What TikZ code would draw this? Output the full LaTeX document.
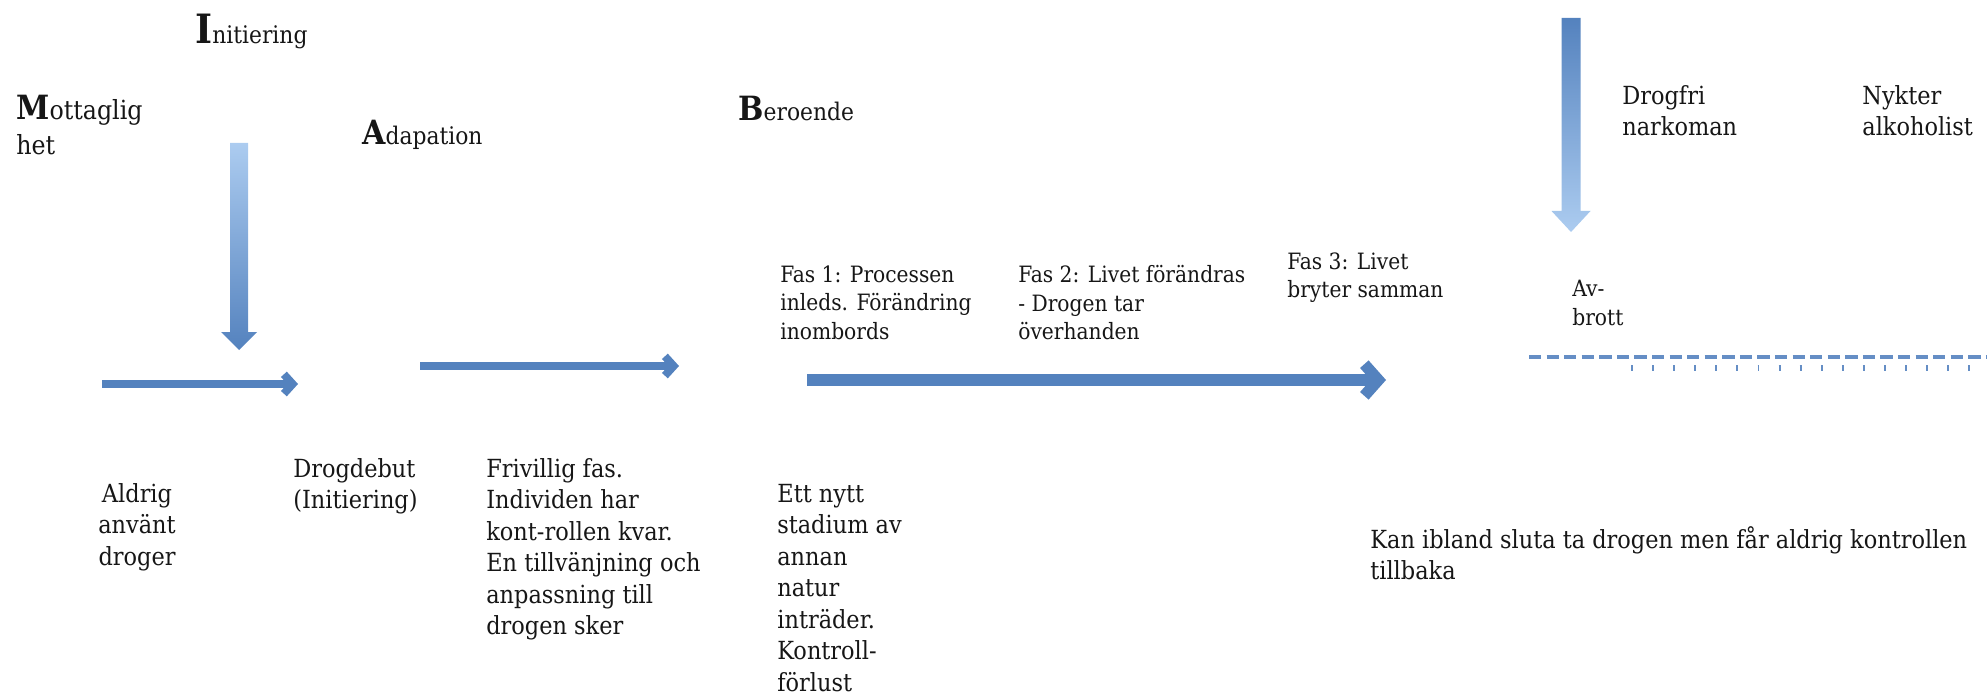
\documentclass[tikz,border=0pt]{standalone}
\usepackage{fontspec}
\setmainfont{DejaVu Serif Condensed}
\usetikzlibrary{positioning, arrows.meta}
\definecolor{flowblue}{RGB}{84,130,190}
\definecolor{paleblue}{RGB}{172,204,240}
\definecolor{inkgray}{RGB}{22,22,22}
\tikzset{txt/.style={inner sep=0pt,anchor=north west,align=left,text=inkgray,font=\fontsize{14.2}{17.9}\selectfont},
         fas/.style={txt,font=\fontsize{12.8}{16.3}\selectfont},
         stage/.style={txt,font=\fontsize{13.8}{20}\selectfont},
         flow/.style={draw=flowblue,line width=4.5pt,-{Straight Barb[length=5pt,width=11pt]}},
         bigflow/.style={draw=flowblue,line width=6.5pt,-{Straight Barb[length=8pt,width=18pt]}},
         breakline/.style={draw=flowblue!90,line width=2.2pt,dash pattern=on 7pt off 3pt},
         tickline/.style={draw=flowblue!90,line width=3pt,dash pattern=on 1.1pt off 10.9pt},
        }

\begin{document}
\begin{tikzpicture}[x=0.02cm,y=-0.02cm]
        \useasboundingbox(0,0)rectangle(1987,699);

        % stages
        \node[stage](init)at(195,14){{\fontsize{23}{23}\selectfont\bfseries I}nitiering};
        \node[stage,font=\fontsize{15}{20}\selectfont](mott)at(16,95){{\fontsize{19}{19}\selectfont\bfseries M}ottaglig\\het};
        \node[stage](adap)at(362,120){{\fontsize{19}{19}\selectfont\bfseries A}dapation};
        \node[stage](ber)at(738,96){{\fontsize{19}{19}\selectfont\bfseries B}eroende};

        % phases
        \node[fas](fas1)at(780,265){Fas 1: Processen\\inleds. Förändring\\inombords};
        \node[fas](fas2)at(1018,265){Fas 2: Livet förändras\\- Drogen tar\\överhanden};
        \node[fas](fas3)at(1287,252){Fas 3: Livet\\bryter samman};
        \node[fas](avbr)at(1572,280){Av-\\brott};
        \node[txt](drogfri)at(1622,85){Drogfri\\narkoman};
        \node[txt](nykter)at(1862,85){Nykter\\alkoholist};

        % descriptions
        \node[txt,align=center,anchor=north](aldrig)at(137,483){Aldrig\\använt\\droger};
        \node[txt](debut)at(293,458){Drogdebut\\(Initiering)};
        \node[txt](frivillig)at(486,458){Frivillig fas.\\Individen har\\kont-rollen kvar.\\En tillvänjning och\\anpassning till\\drogen sker};
        \node[txt](nytt)at(777,484){Ett nytt\\stadium av\\annan\\natur\\inträder.\\Kontroll-\\förlust};
        \node[txt](kan)at(1370,526){Kan ibland sluta ta drogen men får aldrig kontrollen\\tillbaka};

        \coordinate(m1)at(102,384);
        \coordinate(m2)at(298,384);
        \coordinate(a1)at(420,366);
        \coordinate(a2)at(679,366);
        \coordinate(b1)at(807,380);
        \coordinate(b2)at(1386,380);
        \coordinate(d1)at(1529,357);
        \coordinate(d2)at(1987,357);
        \coordinate(t1)at(1631,368);
        \coordinate(t2)at(1987,368);

        \draw[flow](m1)--(m2);
        \draw[flow](a1)--(a2);
        \draw[bigflow](b1)--(b2);
        \draw[breakline](d1)--(d2);
        \draw[tickline](t1)--(t2);

        \shade[top color=paleblue,bottom color=flowblue](230,143)--(248,143)--(248,332)--(257,332)--(239,350)--(221,332)--(230,332)--cycle;
        \shade[top color=flowblue,bottom color=paleblue](1561.5,18)--(1580.5,18)--(1580.5,211)--(1590.5,211)--(1571,232)--(1551.5,211)--(1561.5,211)--cycle;
    \end{tikzpicture}
\end{document}
